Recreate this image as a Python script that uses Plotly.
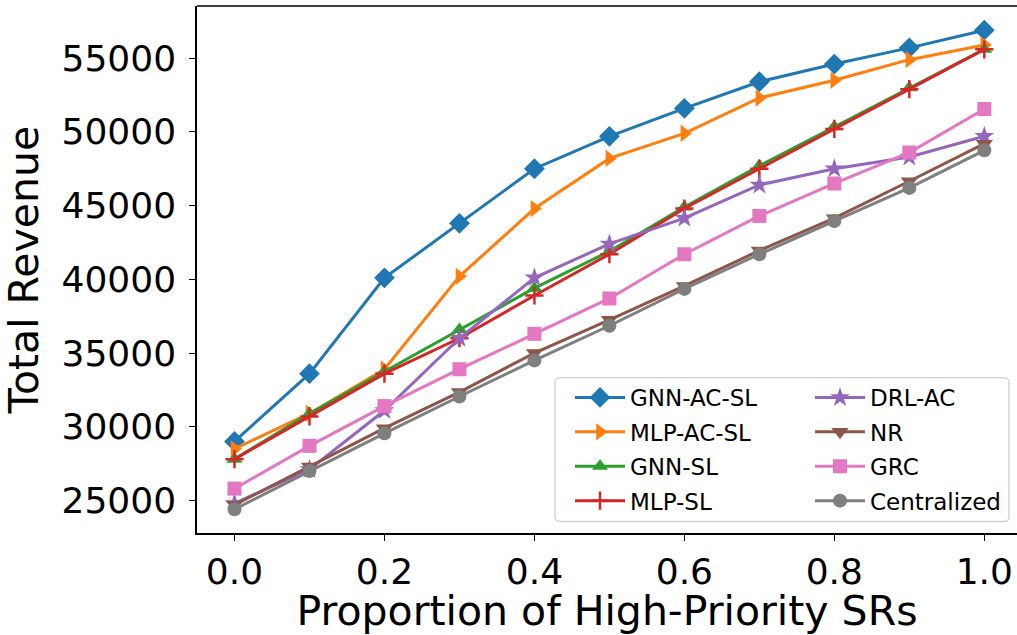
import plotly.graph_objects as go

x_vals = [0.0, 0.1, 0.2, 0.3, 0.4, 0.5, 0.6, 0.7, 0.8, 0.9, 1.0]

gnn_ac_sl = [29000, 33600, 40100, 43800, 47500, 49700, 51600, 53400, 54600, 55700, 56900]
mlp_ac_sl = [28500, 30900, 33900, 40200, 44800, 48200, 49900, 52300, 53500, 54900, 55900]
gnn_sl = [27800, 30900, 33750, 36600, 39400, 41900, 44900, 47700, 50350, 53000, 55600]
mlp_sl = [27800, 30700, 33600, 36000, 38900, 41700, 44800, 47500, 50200, 52900, 55600]
drl_ac = [24800, 27100, 31100, 36000, 40100, 42400, 44150, 46400, 47500, 48300, 49700]
nr = [24700, 27300, 29900, 32350, 35000, 37250, 39550, 41950, 44150, 46650, 49200]
grc = [25800, 28700, 31400, 33900, 36300, 38700, 41700, 44300, 46500, 48600, 51550]
centralized = [24400, 27000, 29550, 32050, 34500, 36850, 39350, 41700, 43950, 46200, 48750]

series_names = ["GNN-AC-SL", "MLP-AC-SL", "GNN-SL", "MLP-SL", "DRL-AC", "NR", "GRC", "Centralized"]
series_values = [gnn_ac_sl, mlp_ac_sl, gnn_sl, mlp_sl, drl_ac, nr, grc, centralized]

colors = ["#1f77b4", "#ff7f0e", "#2ca02c", "#d62728", "#9467bd", "#8c564b", "#e377c2", "#7f7f7f"]
symbols = ["diamond", "triangle-right", "triangle-up", "cross-thin", "star", "triangle-down", "square", "circle"]
sizes = [16, 15, 14, 13, 15, 15, 14, 14]

fig = go.Figure()
for i, (name, vals) in enumerate(zip(series_names, series_values)):
    marker = dict(symbol=symbols[i], size=sizes[i], color=colors[i])
    if symbols[i] == "cross-thin":
        marker["line"] = dict(color=colors[i], width=2.5)
    else:
        marker["line"] = dict(width=0)
    fig.add_trace(go.Scatter(
        x=x_vals, y=vals, name=name, mode="lines+markers",
        line=dict(color=colors[i], width=3),
        marker=marker,
        legendgroup=name,
        legend="legend" if i < 4 else "legend2",
    ))

L, R, T, B = 197, 0, 6, 102
W, H = 1017, 635

def px_x(p):
    return (p - L) / (W - L - R)

def px_y(p):
    return (H - B - p) / (H - T - B)

# legend frame (rounded)
x0, x1 = px_x(555), px_x(1009)
y0, y1 = px_y(521.5), px_y(377.7)
rx, ry = 5 / (W - L - R), 5 / (H - T - B)
path = (f"M {x0+rx},{y0} L {x1-rx},{y0} Q {x1},{y0} {x1},{y0+ry} "
        f"L {x1},{y1-ry} Q {x1},{y1} {x1-rx},{y1} L {x0+rx},{y1} "
        f"Q {x0},{y1} {x0},{y1-ry} L {x0},{y0+ry} Q {x0},{y0} {x0+rx},{y0} Z")

legend_common = dict(
    font=dict(family="DejaVu Sans", size=23, color="black"),
    bgcolor="rgba(0,0,0,0)", borderwidth=0,
    xanchor="left", yanchor="top",
    tracegroupgap=1.5, itemwidth=50,
)

fig.update_layout(
    width=W, height=H,
    margin=dict(l=L, r=R, t=T, b=B),
    plot_bgcolor="white", paper_bgcolor="white",
    font=dict(family="DejaVu Sans", color="black"),
    legend=dict(x=px_x(570), y=px_y(376), **legend_common),
    legend2=dict(x=px_x(810), y=px_y(376), **legend_common),
    shapes=[
        dict(type="path", xref="paper", yref="paper", path=path,
             fillcolor="rgba(255,255,255,0.8)", line=dict(color="#d0d0d0", width=1.3), layer="above"),
        dict(type="line", xref="paper", yref="paper", x0=0, x1=1, y0=1, y1=1,
             line=dict(color="black", width=1.5)),
    ],
)

fig.update_xaxes(
    range=[-0.05, 1.0436], dtick=0.2, tick0=0, tickformat=".1f",
    showgrid=False, zeroline=False, showline=True, linecolor="black", linewidth=1.5,
    ticks="outside", ticklen=6, tickwidth=1.3, tickcolor="black",
    tickfont=dict(family="DejaVu Sans", size=36, color="black"),
    title=dict(text="Proportion of High-Priority SRs", font=dict(family="DejaVu Sans", size=41, color="black"), standoff=8),
)
fig.update_yaxes(
    range=[22790, 58540], dtick=5000, tick0=25000, tickformat="d",
    showgrid=False, zeroline=False, showline=True, linecolor="black", linewidth=1.5,
    ticks="outside", ticklen=6, tickwidth=1.3, tickcolor="black", ticklabelstandoff=6,
    tickfont=dict(family="DejaVu Sans", size=36, color="black"),
    title=dict(text="Total Revenue", font=dict(family="DejaVu Sans", size=41, color="black"), standoff=14),
)

fig.write_html("out.html")
